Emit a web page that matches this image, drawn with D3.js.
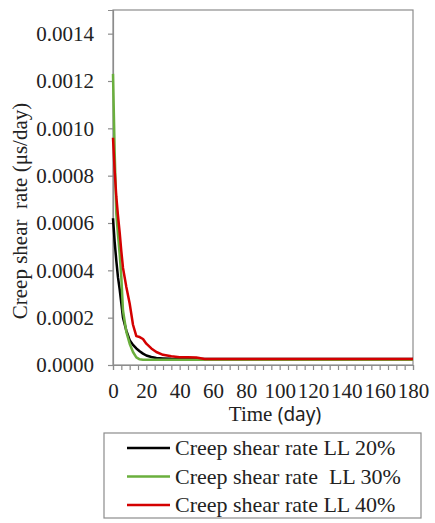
<!DOCTYPE html>
<html><head><meta charset="utf-8">
<script src="https://cdn.jsdelivr.net/npm/d3@7/dist/d3.min.js"></script>
</head><body style="margin:0">
<script>
const days = [0,1,2,3,4,5,6,8,10,12,14,16,18,20,23,26,30,35,40,45,50,55,60,90,120,150,180];
const ll20 = [0.00062,0.00052,0.00044,0.00037,0.00032,0.00026,0.00020,0.000145,0.000105,0.000085,0.00007,0.000058,0.000048,0.00004,0.000034,0.00003,0.000028,0.000026,0.000025,0.000025,0.000025,0.000025,0.000025,0.000025,0.000025,0.000025,0.000025];
const ll30 = [0.00123,0.00090,0.00064,0.00055,0.00047,0.00037,0.00023,0.00014,0.00009,0.000055,0.000032,0.000024,0.000022,0.000022,0.000022,0.000022,0.000022,0.000022,0.000022,0.000022,0.000022,0.000022,0.000022,0.000022,0.000022,0.000022,0.000022];
const ll40 = [0.00096,0.00082,0.00071,0.00063,0.00056,0.00048,0.00041,0.00033,0.00026,0.00017,0.000122,0.000118,0.00011,0.00009,0.00007,0.000055,0.000043,0.000037,0.000033,0.000033,0.000032,0.000025,0.000025,0.000025,0.000025,0.000025,0.000025];
const seriesNames = ["Creep shear rate LL 20%","Creep shear rate\u00a0 LL 30%","Creep shear rate LL 40%"];
const seriesColors = ["#000000","#6aaf3d","#d40000"];
const yTicks = [0,0.0002,0.0004,0.0006,0.0008,0.0010,0.0012,0.0014];
const xTicks = [0,20,40,60,80,100,120,140,160,180];

const W=435,H=523;
const svg=d3.select("body").append("svg").attr("width",W).attr("height",H).style("display","block");
const m={l:113,r:413,t:10,b:365};
const x=d3.scaleLinear().domain([0,180]).range([m.l,m.r]);
const y=d3.scaleLinear().domain([0,0.0015]).range([m.b,m.t]);
const gray="#8c8c8c";
const SERIF='"Liberation Serif"';
const SANS='"Noto Sans"';
const fs="21px";

svg.append("rect").attr("x",m.l).attr("y",m.t).attr("width",m.r-m.l).attr("height",m.b-m.t)
  .attr("fill","none").attr("stroke",gray).attr("stroke-width",1.2);

const ya=svg.append("g").attr("transform",`translate(${m.l},0)`)
  .call(d3.axisLeft(y).tickValues(yTicks).tickFormat(d3.format(".4f")).tickSize(5).tickPadding(14));
ya.attr("font-family",null).attr("font-size",null);
ya.select(".domain").attr("stroke",gray).attr("stroke-width",1.2);
ya.selectAll(".tick line").attr("stroke",gray).attr("stroke-width",1.2);
ya.selectAll("text").style("font-family",SERIF).style("font-size",fs).attr("fill","#222");

const xa=svg.append("g").attr("transform",`translate(0,${m.b})`)
  .call(d3.axisBottom(x).tickValues(d3.range(0,181,5)).tickFormat(d=>xTicks.includes(d)?d:"").tickSize(5).tickPadding(13));
xa.attr("font-family",null).attr("font-size",null);
xa.select(".domain").attr("stroke",gray).attr("stroke-width",1.2);
xa.selectAll(".tick line").attr("stroke",gray).attr("stroke-width",1.2);
xa.selectAll("text").style("font-family",SERIF).style("font-size",fs).attr("fill","#222");

const data=[ll20,ll30,ll40];
const line=d3.line().x((d,i)=>x(days[i])).y(d=>y(d));
data.forEach((s,k)=>{
  svg.append("path").datum(s).attr("d",line).attr("fill","none")
    .attr("stroke",seriesColors[k]).attr("stroke-width",2.5).attr("stroke-linejoin","round");
});

const xt=svg.append("text").attr("x",275).attr("y",421).attr("text-anchor","middle")
  .style("font-family",SERIF).style("font-size",fs).attr("fill","#222");
xt.append("tspan").text("Time ");
xt.append("tspan").style("font-family",SANS).style("font-size","19px").text("(day)");

svg.append("text").attr("transform","translate(27,211) rotate(-90)").attr("text-anchor","middle")
  .style("font-family",SERIF).style("font-size",fs).attr("fill","#222").text("Creep shear\u00a0 rate (\u03bcs/day)");

svg.append("rect").attr("x",104).attr("y",433).attr("width",317).attr("height",85)
  .attr("fill","#fff").attr("stroke",gray).attr("stroke-width",1.2);
seriesNames.forEach((n,k)=>{
  const yy=448+k*28.5;
  svg.append("line").attr("x1",127).attr("x2",170).attr("y1",yy).attr("y2",yy)
    .attr("stroke",seriesColors[k]).attr("stroke-width",2.5);
  svg.append("text").attr("x",175).attr("y",yy+7).style("font-family",SERIF).style("font-size","22px")
    .attr("fill","#222").text(n);
});
</script>
</body></html>
